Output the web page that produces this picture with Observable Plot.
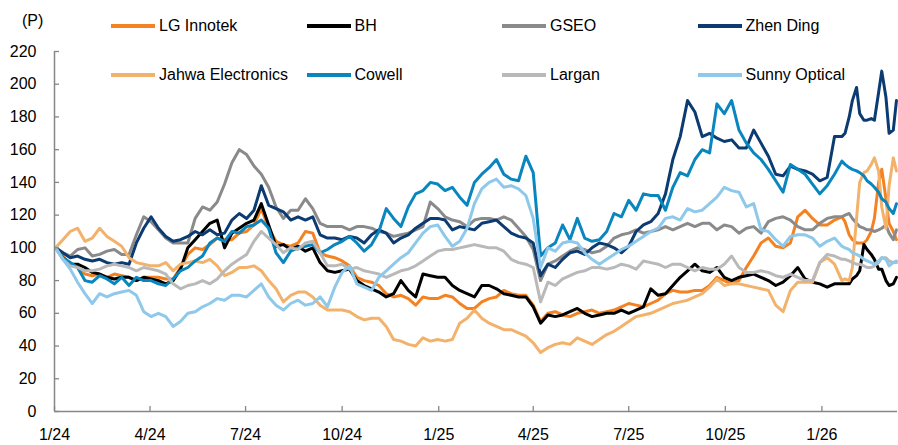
<!DOCTYPE html>
<html><head><meta charset="utf-8">
<script src="https://cdn.jsdelivr.net/npm/d3@7"></script>
<script src="https://cdn.jsdelivr.net/npm/@observablehq/plot@0.6"></script>
<style>
html,body{margin:0;padding:0;background:#fff;}
body{font-family:"Liberation Sans",Arial,sans-serif;}
#wrap{position:relative;width:898px;height:445px;overflow:hidden;}
#ylab{position:absolute;left:22px;top:13px;font-size:16px;line-height:16px;color:#000;}
#legend{position:absolute;left:111px;top:15.5px;display:grid;grid-template-columns:repeat(4,195.5px);row-gap:29px;}
.item{display:flex;align-items:center;height:20px;font-size:16px;line-height:20px;color:#000;white-space:nowrap;}
.sw{width:44px;height:4px;margin-right:4px;}
</style></head>
<body><div id="wrap"><div id="chart"></div><div id="ylab">(P)</div><div id="legend"></div></div>
<script>
const dates = ["2024-01-02","2024-01-09","2024-01-16","2024-01-23","2024-01-30","2024-02-06","2024-02-13","2024-02-20","2024-02-27","2024-03-05","2024-03-12","2024-03-19","2024-03-26","2024-04-02","2024-04-09","2024-04-16","2024-04-23","2024-04-30","2024-05-07","2024-05-14","2024-05-21","2024-05-28","2024-06-04","2024-06-11","2024-06-18","2024-06-25","2024-07-02","2024-07-09","2024-07-16","2024-07-23","2024-07-30","2024-08-06","2024-08-13","2024-08-20","2024-08-27","2024-09-03","2024-09-10","2024-09-17","2024-09-24","2024-10-01","2024-10-08","2024-10-15","2024-10-22","2024-10-29","2024-11-05","2024-11-12","2024-11-19","2024-11-26","2024-12-03","2024-12-10","2024-12-17","2024-12-24","2024-12-31",
"2025-01-07","2025-01-14","2025-01-21","2025-01-28","2025-02-04","2025-02-11","2025-02-18","2025-02-25","2025-03-04","2025-03-11","2025-03-18","2025-03-25","2025-04-01","2025-04-08","2025-04-15","2025-04-22","2025-04-29","2025-05-06","2025-05-13","2025-05-20","2025-05-27","2025-06-03","2025-06-10","2025-06-17","2025-06-24","2025-07-01","2025-07-08","2025-07-15","2025-07-22","2025-07-29","2025-08-05","2025-08-12","2025-08-19","2025-08-26","2025-09-02","2025-09-09","2025-09-16","2025-09-23","2025-09-30","2025-10-07","2025-10-14","2025-10-21","2025-10-28","2025-11-04","2025-11-11","2025-11-18","2025-11-25","2025-12-02","2025-12-09","2025-12-16","2025-12-23","2025-12-30",
"2026-01-06","2026-01-13","2026-01-20","2026-01-23","2026-01-27","2026-01-30","2026-02-03","2026-02-06","2026-02-10","2026-02-13","2026-02-17","2026-02-20","2026-02-24","2026-02-27","2026-03-03","2026-03-06","2026-03-10","2026-03-13"];

const lgInnotek = [100,95,90,88,84,83,84,82,84,83, 82,80,82,82,82,81,81,88,96,100, 99,102,106,105,105,109,110,114,124,112, 104,102,101,103,110,109,97,95,94,92, 89,82,80,79,77,72,70,71,69,65, 70,69,69,71,70,66,63,63,67,69, 70,74,72,71,71,65,55,60,61,59, 58,60,61,62,60,61,62,64,66,65, 64,66,68,72,74,73,73,74,74,77, 82,80,78,80,88,95,103,106,101,100, 103,119,123,118,114,114,117,119, 116,108,105,103,103,103,105,110,118,140,148,130,115,110,105];
const bh = [100,94,90,90,88,85,84,82,81,82, 82,80,82,81,80,78,80,87,100,105, 110,115,117,100,109,112,115,117,127,114, 101,102,99,101,98,100,91,86,85,86, 87,80,77,75,73,70,72,80,74,70, 84,83,82,82,77,74,72,70,77,77, 75,72,71,70,70,64,54,59,58,59, 61,63,60,58,59,60,60,62,60,62, 64,75,71,72,77,82,86,90,86,85, 88,82,80,82,83,84,82,80,77,79, 83,88,81,79,78,76,78,78, 78,78,81,83,86,102,99,96,93,87,87,80,77,78,82];
const gseo = [100,97,95,99,100,95,96,98,99,96, 96,108,119,116,111,106,103,103,103,118, 125,123,128,139,152,160,157,150,145,137, 125,118,123,123,130,124,115,113,113,113, 111,113,113,112,110,109,107,108,109,111, 113,128,124,119,117,116,113,117,118,118, 117,119,117,112,107,99,80,90,92,95, 98,100,99,97,98,101,106,108,109,111, 109,110,111,113,111,113,115,113,115,115, 111,114,113,109,112,113,109,116,118,119, 117,113,111,111,115,118,119,119, 120,121,118,115,113,112,111,111,110,111,112,114,109,105,111];
const zhenDing = [100,97,94,95,93,92,93,91,90,91, 90,103,112,119,112,107,104,105,107,110, 108,111,108,109,117,121,118,123,138,126, 124,122,117,119,117,119,108,106,106,105, 107,106,103,108,111,109,103,106,108,112, 115,118,118,117,111,113,112,111,115,116, 117,113,109,107,106,103,83,90,88,93, 97,98,96,100,103,102,100,97,101,110, 114,116,121,133,154,168,190,183,168,170, 167,165,166,161,161,172,164,156,145,144, 150,148,147,145,141,143,168,168, 170,180,190,198,182,178,178,179,178,195,208,192,170,172,190];
const jahwa = [100,105,110,112,104,106,112,107,104,101, 94,91,90,89,89,91,86,90,91,92, 91,93,89,83,85,88,88,89,86,80, 75,67,71,73,73,70,65,62,62,62, 61,58,56,57,57,52,44,43,41,40, 45,43,44,43,44,54,57,62,57,54, 52,50,50,48,46,42,36,39,41,42, 41,45,43,41,44,47,49,52,55,58, 59,60,62,64,66,67,68,70,72,76, 81,77,78,78,77,76,75,74,65,61, 74,79,79,79,91,94,90,80, 81,80,88,118,140,146,147,151,155,147,125,112,138,155,147];
const cowell = [100,94,91,88,80,79,83,81,78,82, 77,82,80,80,78,77,81,86,88,92, 95,103,106,104,110,109,113,114,117,112, 97,91,98,100,101,102,97,99,102,104, 107,103,98,102,110,124,118,113,125,133, 135,140,139,135,137,131,126,140,145,149, 154,145,142,141,156,146,95,100,103,114, 105,118,106,104,105,110,121,119,129,123, 133,132,132,123,137,146,144,154,160,158, 188,182,190,172,164,158,154,148,141,134, 151,148,145,139,133,138,145,153, 151,149,148,147,146,144,141,139,137,134,130,128,124,121,127];
const largan = [100,93,89,88,86,86,87,89,90,89, 88,86,88,87,86,84,78,75,77,78, 80,78,81,86,90,93,96,104,110,106, 102,97,100,99,103,104,97,89,89,90, 87,88,86,85,84,82,84,86,87,89, 92,95,98,99,99,100,101,102,101,100, 100,98,93,91,90,88,67,79,77,81, 83,85,86,88,88,87,88,90,89,87, 92,91,90,88,90,90,88,86,88,87, 87,90,95,88,85,85,86,85,83,82, 84,82,80,80,91,96,95,93, 93,92,91,90,90,89,88,88,89,91,94,94,92,91,91];
const sunny = [100,93,87,79,72,66,72,70,72,73, 74,71,61,58,60,58,52,55,60,61, 64,66,69,68,71,71,70,74,78,70, 65,62,66,68,65,66,70,64,76,85, 89,78,76,74,82,86,90,94,97,103, 109,113,114,107,101,104,112,127,136,140, 142,137,138,136,132,118,88,100,98,103, 104,103,97,93,90,93,96,99,101,104, 107,110,112,118,119,117,124,122,123,127, 131,137,135,134,125,127,111,110,105,101, 107,108,108,106,101,104,106,101, 100,99,97,96,95,93,92,91,90,92,94,93,89,91,92];

const seriesNames = ["LG Innotek","BH","GSEO","Zhen Ding","Jahwa Electronics","Cowell","Largan","Sunny Optical"];
const seriesColors = ["#f58220","#000000","#8a8a8a","#0b3b71","#f3b26b","#0a86bf","#b9b9b9","#8ec8ea"];
const seriesValues = [lgInnotek, bh, gseo, zhenDing, jahwa, cowell, largan, sunny];
const xTickLabels = ["2024-01-01","2024-04-01","2024-07-01","2024-10-01","2025-01-01","2025-04-01","2025-07-01","2025-10-01","2026-01-01"];
const yTickValues = [0,20,40,60,80,100,120,140,160,180,200,220];

const rows = seriesNames.flatMap((name, i) =>
  dates.map((d, j) => ({name, date: new Date(d), value: seriesValues[i][j]})));

const axisColor = "#868686";
const xStart = new Date("2024-01-01");
const chart = Plot.plot({
  width: 898, height: 445,
  marginLeft: 54, marginRight: 1, marginTop: 51, marginBottom: 34,
  style: {fontFamily: "'Liberation Sans', Arial, sans-serif", fontSize: "16px", color: "#000", background: "#fff", overflow: "visible"},
  x: {type: "utc", domain: [xStart, new Date("2026-03-14")], axis: null},
  y: {domain: [0, 220], axis: null},
  color: {domain: seriesNames, range: seriesColors},
  marks: [
    Plot.line(rows, {x: "date", y: "value", z: "name", stroke: "name", strokeWidth: 3, strokeLinejoin: "round", strokeLinecap: "round"}),
    Plot.ruleY([0], {stroke: axisColor, strokeWidth: 1.5}),
    Plot.ruleX([xStart], {stroke: axisColor, strokeWidth: 1.5}),
    Plot.axisY(yTickValues, {tickSize: -5, tickPadding: 23, stroke: axisColor, strokeWidth: 1.3, fill: "#000", fontSize: 16, label: null}),
    Plot.axisX(xTickLabels.map(d => new Date(d)), {tickSize: -5, tickPadding: 22, stroke: axisColor, strokeWidth: 1.3, fill: "#000", fontSize: 16, label: null,
      tickFormat: d => `${d.getUTCMonth() + 1}/${String(d.getUTCFullYear()).slice(2)}`})
  ]
});
document.getElementById("chart").appendChild(chart);

const legend = document.getElementById("legend");
seriesNames.forEach((name, i) => {
  const item = document.createElement("div");
  item.className = "item";
  const sw = document.createElement("span");
  sw.className = "sw";
  sw.style.background = seriesColors[i];
  const label = document.createElement("span");
  label.textContent = name;
  item.appendChild(sw);
  item.appendChild(label);
  legend.appendChild(item);
});
</script></body></html>
